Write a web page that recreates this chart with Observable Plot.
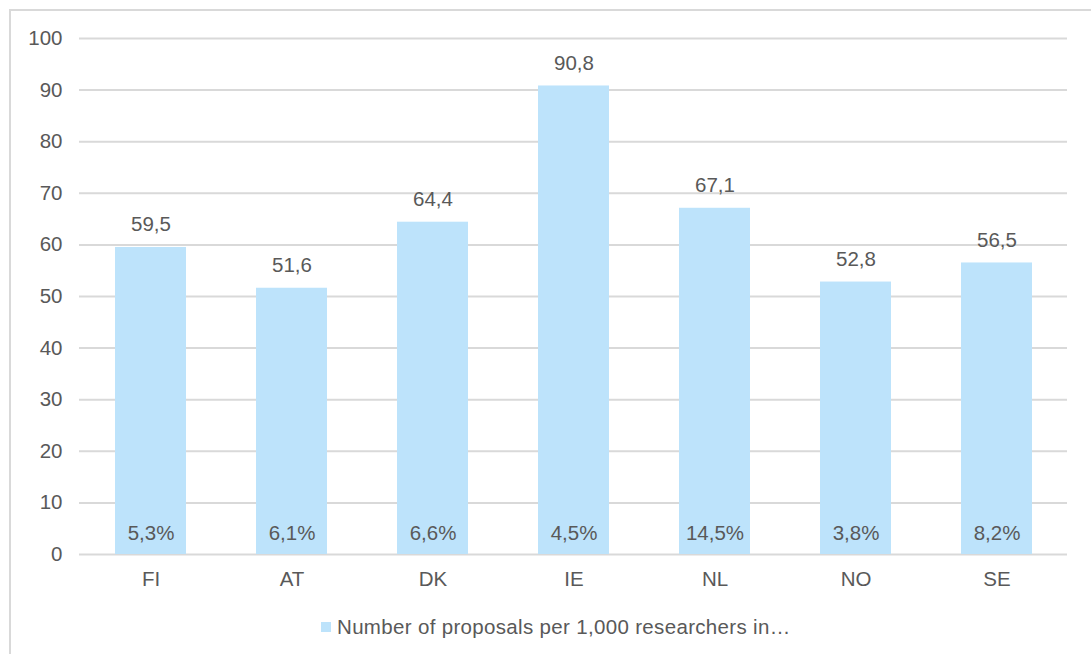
<!DOCTYPE html>
<html>
<head>
<meta charset="utf-8">
<script src="https://cdn.jsdelivr.net/npm/d3@7"></script>
<script src="https://cdn.jsdelivr.net/npm/@observablehq/plot@0.6"></script>
<style>
  html, body { margin: 0; padding: 0; background: #fff; overflow: hidden; }
  body { width: 1091px; height: 654px; position: relative; font-family: "Liberation Sans", Arial, sans-serif; }
  #frame { position: absolute; left: 9px; top: 9px; width: 1110px; height: 700px; border: 2px solid #d9d9d9; box-sizing: border-box; }
  #chart { position: absolute; left: 0; top: 0; }
  #legend { position: absolute; left: 321px; top: 615px; display: flex; align-items: center; color: #595959; font-size: 20.5px; letter-spacing: 0.33px; white-space: nowrap; }
  #legend .sw { width: 10px; height: 10px; background: #bde3fb; margin-right: 6px; }
</style>
</head>
<body>
<div id="frame"></div>
<div id="chart"></div>
<div id="legend"><div class="sw"></div><span>Number of proposals per 1,000 researchers in…</span></div>
<script>
const countries = ["FI", "AT", "DK", "IE", "NL", "NO", "SE"];
const proposals = [59.5, 51.6, 64.4, 90.8, 67.1, 52.8, 56.5];
const shares = ["5,3%", "6,1%", "6,6%", "4,5%", "14,5%", "3,8%", "8,2%"];
const yTicks = [0, 10, 20, 30, 40, 50, 60, 70, 80, 90, 100];

const data = countries.map((c, i) => ({country: c, value: proposals[i], share: shares[i]}));
const fmt = v => v.toFixed(1).replace(".", ",");
const FS = 20.5;

const plot = Plot.plot({
  width: 1091,
  height: 600,
  marginLeft: 79,
  marginRight: 24,
  marginTop: 38,
  marginBottom: 46,
  style: {fontFamily: "'Liberation Sans', Arial, sans-serif", fontSize: FS + "px", color: "#595959", background: "transparent"},
  x: {domain: countries, paddingInner: 0.5, paddingOuter: 0.25, label: null},
  y: {domain: [0, 100], ticks: yTicks, label: null, grid: false},
  marks: [
    Plot.ruleY(yTicks, {stroke: "#d9d9d9", strokeWidth: 2}),
    Plot.barY(data, {x: "country", y: "value", fill: "#bde3fb"}),
    Plot.text(data, {x: "country", y: "value", text: d => fmt(d.value), dy: -23, fill: "#595959", fontSize: FS}),
    Plot.text(data, {x: "country", y: 0, text: "share", dy: -21, fill: "#595959", fontSize: FS}),
    Plot.axisX({tickSize: 0, tickPadding: 17, fontSize: FS, label: null}),
    Plot.axisY({ticks: yTicks, tickSize: 0, tickPadding: 17, fontSize: FS, label: null})
  ]
});
document.getElementById("chart").append(plot);
</script>
</body>
</html>
